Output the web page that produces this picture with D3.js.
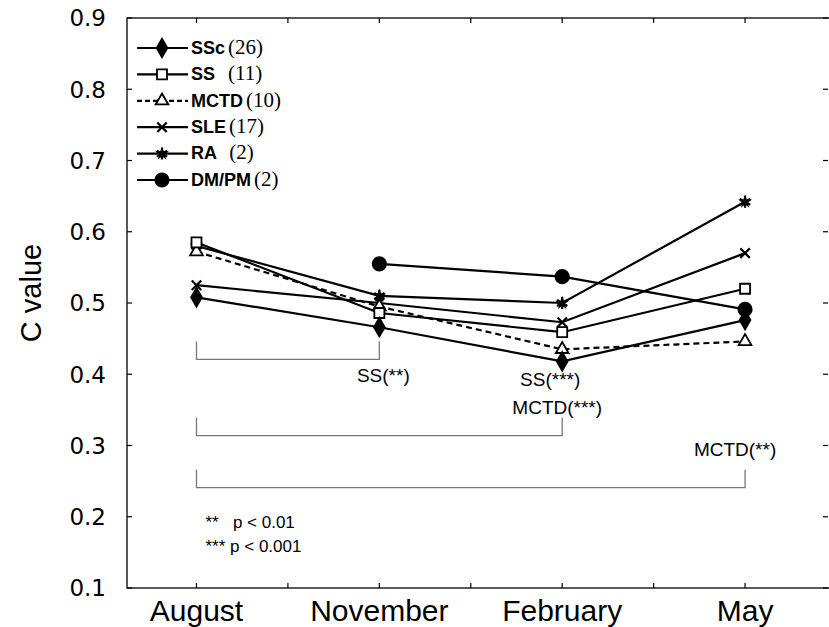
<!DOCTYPE html>
<html>
<head>
<meta charset="utf-8">
<script src="https://cdn.jsdelivr.net/npm/d3@7"></script>
<style>
  body { margin: 0; background: #fff; }
  svg { display: block; }
</style>
</head>
<body>
<div id="chart"></div>
<script>
// months on the x axis (1..4)
const months = ["August", "November", "February", "May"];
const xTicks = [1, 1.5, 2, 2.5, 3, 3.5, 4];
const yTicks = [0.1, 0.2, 0.3, 0.4, 0.5, 0.6, 0.7, 0.8, 0.9];

// series, one value per month (null = not measured)
const groups = ["SSc", "SS", "MCTD", "SLE", "RA", "DM/PM"];
const counts = ["(26)", "(11)", "(10)", "(17)", "(2)", "(2)"];
const ssc = [0.508, 0.466, 0.418, 0.476];
const ss = [0.585, 0.486, 0.459, 0.520];
const mctd = [0.572, 0.495, 0.435, 0.446];
const sle = [0.525, 0.500, 0.473, 0.570];
const ra = [0.580, 0.510, 0.500, 0.642];
const dmpm = [null, 0.555, 0.537, 0.491];

// significance brackets: [from month, to month, level]
const brackets = [
  [1, 2, 0.421],
  [1, 3, 0.314],
  [1, 4, 0.241]
];
const bracketLabels = [["SS(**)"], ["SS(***)", "MCTD(***)"], ["MCTD(**)"]];
const pNotes = ["**   p < 0.01", "*** p < 0.001"];

const width = 829, height = 627;
const mLeft = 127, mTop = 18, mBottom = 588, mRight = 831;

const svg = d3.create("svg")
  .attr("width", width)
  .attr("height", height)
  .style("font-family", "'Liberation Sans', Arial, sans-serif");

const x = d3.scaleLinear().domain([0.62, 4.47]).range([mLeft, mRight]);
const y = d3.scaleLinear().domain([0.1, 0.9]).range([mBottom, mTop]);

// frame
svg.append("rect")
  .attr("x", mLeft).attr("y", mTop)
  .attr("width", mRight - mLeft).attr("height", mBottom - mTop)
  .attr("fill", "none").attr("stroke", "#000").attr("stroke-width", 1.3);

// inward ticks on all four sides
const tk = 5;
svg.append("g").selectAll("line").data(xTicks).join("line")
  .attr("x1", d => x(d)).attr("x2", d => x(d))
  .attr("y1", mBottom).attr("y2", mBottom - tk)
  .attr("stroke", "#000").attr("stroke-width", 1.2);
svg.append("g").selectAll("line").data(xTicks).join("line")
  .attr("x1", d => x(d)).attr("x2", d => x(d))
  .attr("y1", mTop).attr("y2", mTop + tk)
  .attr("stroke", "#000").attr("stroke-width", 1.2);
svg.append("g").selectAll("line").data(yTicks).join("line")
  .attr("x1", mLeft).attr("x2", mLeft + tk)
  .attr("y1", d => y(d)).attr("y2", d => y(d))
  .attr("stroke", "#000").attr("stroke-width", 1.2);
svg.append("g").selectAll("line").data(yTicks).join("line")
  .attr("x1", mRight - 3).attr("x2", mRight - 3 - tk)
  .attr("y1", d => y(d)).attr("y2", d => y(d))
  .attr("stroke", "#000").attr("stroke-width", 1.2);

// tick labels
svg.append("g").selectAll("text").data(yTicks).join("text")
  .attr("x", mLeft - 21).attr("y", d => y(d))
  .attr("dy", "0.36em").attr("text-anchor", "end")
  .attr("font-family", "'DejaVu Sans', sans-serif")
  .attr("font-size", 23)
  .text(d => d3.format(".1f")(d));
svg.append("g").selectAll("text").data(months).join("text")
  .attr("x", (d, i) => x(i + 1)).attr("y", mBottom + 33)
  .attr("text-anchor", "middle").attr("font-size", 30)
  .text(d => d);
svg.append("text")
  .attr("transform", `translate(41,${(mTop + mBottom) / 2 - 10}) rotate(-90)`)
  .attr("text-anchor", "middle").attr("font-size", 29)
  .text("C value");

// brackets
const gray = "#777";
brackets.forEach(([a, b, lv]) => {
  const yb = y(lv), yt = y(lv + 0.025);
  svg.append("path")
    .attr("d", `M${x(a)},${yt}V${yb}H${x(b)}V${yt}`)
    .attr("fill", "none").attr("stroke", gray).attr("stroke-width", 1.3);
});
// labels near the bracket ends
const lblSize = 19;
svg.append("text").attr("x", x(2) + 4).attr("y", y(brackets[0][2]) + 23)
  .attr("text-anchor", "middle").attr("font-size", lblSize).text(bracketLabels[0][0]);
svg.append("text").attr("x", x(3) - 12).attr("y", y(ssc[2]) + 25)
  .attr("text-anchor", "middle").attr("font-size", lblSize).text(bracketLabels[1][0]);
svg.append("text").attr("x", x(3) - 5).attr("y", y(ssc[2]) + 53)
  .attr("text-anchor", "middle").attr("font-size", lblSize).text(bracketLabels[1][1]);
svg.append("text").attr("x", x(4) - 10).attr("y", y(brackets[2][2]) - 32)
  .attr("text-anchor", "middle").attr("font-size", lblSize).text(bracketLabels[2][0]);

svg.append("g").selectAll("text").data(pNotes).join("text")
  .attr("x", x(1) + 9).attr("y", (d, i) => 528 + i * 24)
  .attr("font-size", 17).style("white-space", "pre")
  .text(d => d);

// markers
const sym = {
  diamond: d3.symbol().type(d3.symbolDiamond).size(100),
  square: d3.symbol().type(d3.symbolSquare).size(100),
  triangle: d3.symbol().type(d3.symbolTriangle).size(70),
  cross: d3.symbol().type(d3.symbolX).size(60),
  star: d3.symbol().type(d3.symbolAsterisk).size(100),
  circle: d3.symbol().type(d3.symbolCircle).size(140)
};
const starFill = d3.symbol().type(d3.symbolStar).size(60);

const series = [
  { values: ssc, marker: "diamond", fill: "#000", dash: null },
  { values: ss, marker: "square", fill: "#fff", dash: null },
  { values: mctd, marker: "triangle", fill: "#fff", dash: "6,4" },
  { values: sle, marker: "cross", fill: "none", dash: null },
  { values: ra, marker: "star", fill: "none", dash: null },
  { values: dmpm, marker: "circle", fill: "#000", dash: null }
];

const drawMarker = (g, type, fill, cx, cy) => {
  g.append("path")
    .attr("transform", `translate(${cx},${cy})`)
    .attr("d", sym[type]())
    .attr("fill", fill)
    .attr("stroke", "#000")
    .attr("stroke-width", type === "star" || type === "cross" ? 2.2 : 1.8);
  if (type === "star") {
    g.append("path")
      .attr("transform", `translate(${cx},${cy})`)
      .attr("d", starFill()).attr("fill", "#000");
  }
};

const line = d3.line()
  .defined(d => d != null)
  .x((d, i) => x(i + 1))
  .y(d => y(d));

const lineG = svg.append("g");
series.forEach(s => {
  lineG.append("path")
    .attr("d", line(s.values))
    .attr("fill", "none").attr("stroke", "#000").attr("stroke-width", 2.2)
    .attr("stroke-dasharray", s.dash);
});
const markG = svg.append("g");
// reverse order so SSc / SS markers end up on top
series.slice().reverse().forEach(s => {
  s.values.forEach((v, i) => {
    if (v != null) drawMarker(markG, s.marker, s.fill, x(i + 1), y(v));
  });
});

// legend
const legG = svg.append("g");
groups.forEach((name, i) => {
  const s = series[i];
  const ly = 48 + i * 26.4;
  legG.append("line")
    .attr("x1", 137).attr("x2", 188).attr("y1", ly).attr("y2", ly)
    .attr("stroke", "#000").attr("stroke-width", 2.2)
    .attr("stroke-dasharray", s.dash ? "5,3" : null);
  drawMarker(legG, s.marker, s.fill, 162, ly);
  const t = legG.append("text")
    .attr("x", 191).attr("y", ly).attr("dy", "0.36em")
    .style("white-space", "pre");
  t.append("tspan")
    .attr("font-size", 18).attr("font-weight", "bold")
    .text(name === "SS" || name === "RA" ? name + "  " : name);
  t.append("tspan")
    .attr("dx", 3)
    .attr("font-family", "'Liberation Serif', 'Times New Roman', serif")
    .attr("font-size", 21)
    .text(counts[i]);
});

document.getElementById("chart").appendChild(svg.node());
</script>
</body>
</html>
